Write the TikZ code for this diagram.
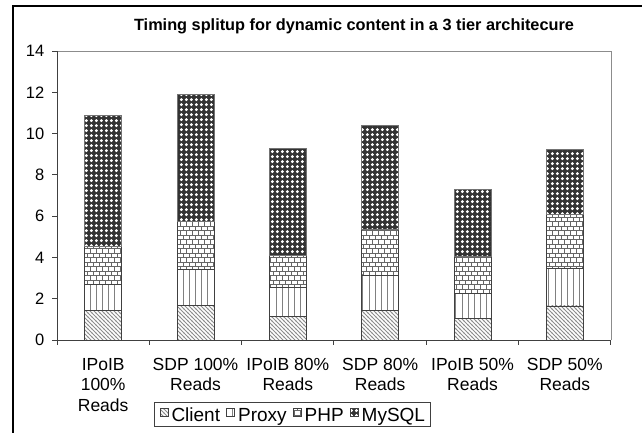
\documentclass[tikz,border=0pt]{standalone}
\usepackage{fontspec}
\setmainfont{Liberation Sans}
\usetikzlibrary{positioning, patterns, fit}

% fill patterns of the four tiers
\pgfdeclarepatternformonly{clientlines}{\pgfpoint{-1pt}{-1pt}}{\pgfpoint{5pt}{5pt}}{\pgfpoint{4pt}{4pt}}{%
  \pgfsetlinewidth{0.8pt}%
  \pgfpathmoveto{\pgfpoint{-0.5pt}{4.5pt}}%
  \pgfpathlineto{\pgfpoint{4.5pt}{-0.5pt}}%
  \pgfusepath{stroke}}
\pgfdeclarepatternformonly{proxylines}{\pgfpoint{0pt}{-1pt}}{\pgfpoint{6.2pt}{2pt}}{\pgfpoint{6.2pt}{1pt}}{%
  \pgfsetlinewidth{0.7pt}%
  \pgfpathmoveto{\pgfpoint{3.1pt}{-1pt}}%
  \pgfpathlineto{\pgfpoint{3.1pt}{2pt}}%
  \pgfusepath{stroke}}
\pgfdeclarepatternformonly{phpbricks}{\pgfpoint{-1pt}{-1pt}}{\pgfpoint{7pt}{10pt}}{\pgfpoint{6pt}{9pt}}{%
  \pgfsetlinewidth{0.7pt}%
  \pgfpathmoveto{\pgfpoint{-1pt}{0pt}}\pgfpathlineto{\pgfpoint{7pt}{0pt}}%
  \pgfpathmoveto{\pgfpoint{-1pt}{4.5pt}}\pgfpathlineto{\pgfpoint{7pt}{4.5pt}}%
  \pgfpathmoveto{\pgfpoint{0pt}{0pt}}\pgfpathlineto{\pgfpoint{0pt}{4.5pt}}%
  \pgfpathmoveto{\pgfpoint{3pt}{4.5pt}}\pgfpathlineto{\pgfpoint{3pt}{9pt}}%
  \pgfusepath{stroke}}
\pgfdeclarepatternformonly{sqldots}{\pgfpointorigin}{\pgfpoint{5.3pt}{5.3pt}}{\pgfpoint{5.3pt}{5.3pt}}{%
  \pgfpathcircle{\pgfpoint{2.65pt}{2.65pt}}{1.8pt}%
  \pgfusepath{fill}}

\begin{document}
\begin{tikzpicture}[
    x=1pt, y=-1pt,
    % Tier fills
    clientfill/.style={pattern=clientlines, pattern color=black!45},
    proxyfill/.style={pattern=proxylines, pattern color=black!50},
    phpfill/.style={pattern=phpbricks, pattern color=black!60},
    sqlfill/.style={preaction={fill=black!80}, pattern=sqldots, pattern color=white},
    segment/.style={draw=black!75, line width=0.8pt},
    % Axes and texts
    axisline/.style={draw=black!75, line width=1pt},
    plotedge/.style={draw=black!45, line width=0.8pt},
    ticklabel/.style={
        font=\fontsize{16.5}{20}\selectfont,
        anchor=east,
        inner sep=0pt
    },
    catlabel/.style={
        font=\fontsize{17.5}{20.5}\selectfont,
        align=center,
        anchor=north,
        inner sep=0pt
    },
    titletext/.style={
        font=\bfseries\fontsize{16.3}{20}\selectfont,
        anchor=base,
        inner sep=0pt
    },
    % Legend
    legendkey/.style={
        rectangle,
        draw=black!75,
        line width=0.6pt,
        minimum size=8pt,
        inner sep=0pt
    },
    legendtext/.style={
        font=\fontsize{19}{22}\selectfont,
        text height=13.7pt,
        text depth=3pt,
        inner sep=0pt
    },
    legendbox/.style={
        rectangle,
        draw=black!75,
        line width=0.8pt,
        inner xsep=5pt,
        inner ysep=3.4pt
    }
]
\useasboundingbox (0,0) rectangle (642,433);

% === Outer frame (cut at right and bottom) ===
\draw[line width=1.2pt] (13,433) -- (13,6) -- (642,6);

% === Title ===
\node[titletext] (title) at (354,31)
    {Timing splitup for dynamic content in a 3 tier architecure};

% === Plot area ===
\begin{scope}[shift={(57,340)}, x=92.33pt, y=20.64pt]
    % stacked bars: client / proxy / php / mysql tops
    \foreach \i/\c/\p/\h/\t in {1/1.42/2.69/4.54/10.88,
                                 2/1.69/3.40/5.74/11.90,
                                 3/1.15/2.55/4.10/9.28,
                                 4/1.45/3.15/5.36/10.42,
                                 5/1.05/2.27/4.05/7.30,
                                 6/1.65/3.48/6.10/9.22} {
        \path[clientfill] (\i-0.7,0) rectangle (\i-0.3,\c);
        \path[proxyfill] (\i-0.7,\c) rectangle (\i-0.3,\p);
        \path[phpfill] (\i-0.7,\p) rectangle (\i-0.3,\h);
        \path[sqlfill] (\i-0.7,\h) rectangle (\i-0.3,\t);
        \draw[segment] (\i-0.7,0) rectangle (\i-0.3,\c);
        \draw[segment] (\i-0.7,\c) rectangle (\i-0.3,\p);
        \draw[segment] (\i-0.7,\p) rectangle (\i-0.3,\h);
        \draw[segment, draw=black!55] (\i-0.7,\h) rectangle (\i-0.3,\t);
    }

    % frame of the plot
    \draw[plotedge] (0,14) -- (6,14) -- (6,0);
    \draw[axisline] (0,14) -- (0,0) -- (6,0);

    % y ticks
    \foreach \v in {0,2,...,14} {
        \draw[axisline] (0,\v) -- ++(-5pt,0pt);
        \node[ticklabel] (tick\v) at ([xshift=-12.5pt]0,\v) {\v};
    }

    % x ticks
    \foreach \k in {0,...,6} {
        \draw[axisline] (\k,0) -- ++(0pt,-5pt);
    }

    % category labels
    \foreach \i/\txt in {1/{IPoIB\\100\%\\Reads},
                          2/{SDP 100\%\\Reads},
                          3/{IPoIB 80\%\\Reads},
                          4/{SDP 80\%\\Reads},
                          5/{IPoIB 50\%\\Reads},
                          6/{SDP 50\%\\Reads}} {
        \node[catlabel] (cat\i) at ([yshift=-18pt]\i-0.5,0) {\txt};
    }
\end{scope}

% === Legend ===
\node[legendkey, clientfill] (keyclient) at (164,412) {};
\node[legendtext, right=3pt of keyclient, yshift=-4.3pt] (txtclient) {Client};
\node[legendkey, proxyfill, right=6pt of txtclient, yshift=4.3pt] (keyproxy) {};
\node[legendtext, right=3pt of keyproxy, yshift=-4.3pt] (txtproxy) {Proxy};
\node[legendkey, phpfill, right=6pt of txtproxy, yshift=4.3pt] (keyphp) {};
\node[legendtext, right=3pt of keyphp, yshift=-4.3pt] (txtphp) {PHP};
\node[legendkey, sqlfill, right=6pt of txtphp, yshift=4.3pt] (keysql) {};
\node[legendtext, right=3pt of keysql, yshift=-4.3pt] (txtsql) {MySQL};
\node[legendbox, fit=(keyclient)(txtclient)(txtsql), yshift=2.1pt] (legend) {};

\end{tikzpicture}
\end{document}
